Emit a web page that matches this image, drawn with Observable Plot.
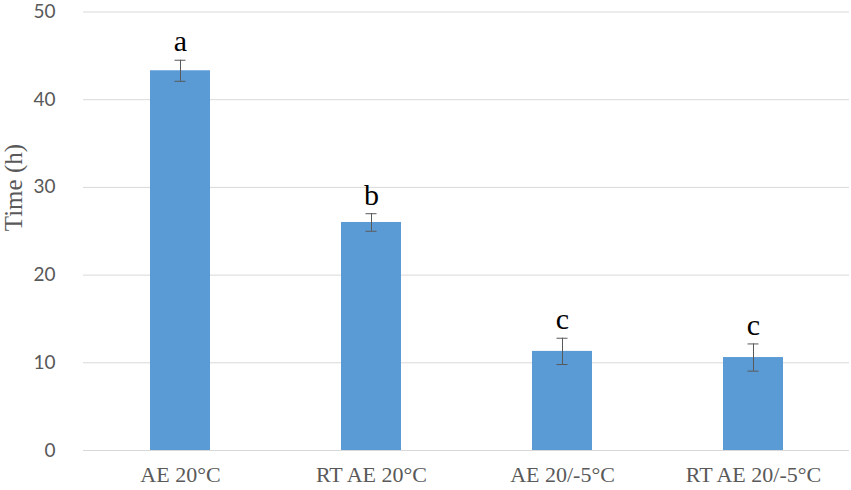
<!DOCTYPE html>
<html><head><meta charset="utf-8">
<script src="https://cdn.jsdelivr.net/npm/d3@7"></script>
<script src="https://cdn.jsdelivr.net/npm/@observablehq/plot@0.6"></script>
<style>body{margin:0;background:#fff}</style>
</head><body><div id="chart"></div>
<script>
const categories = ["AE 20°C", "RT AE 20°C", "AE 20/-5°C", "RT AE 20/-5°C"];
const means = [43.3, 26.0, 11.3, 10.6];
const errors = [1.2, 1.0, 1.5, 1.55];
const letters = ["a", "b", "c", "c"];
const yTicks = [0, 10, 20, 30, 40, 50];

const data = categories.map((c, i) => ({cat: c, v: means[i], lo: means[i] - errors[i], hi: means[i] + errors[i], letter: letters[i]}));

const chart = Plot.plot({
  width: 851, height: 490,
  marginLeft: 83, marginRight: 2, marginTop: 11.5, marginBottom: 40,
  x: {domain: categories, paddingInner: 0.687, paddingOuter: 0.3435, label: null},
  y: {domain: [0, 50], label: null},
  style: {background: "#fff"},
  marks: [
    Plot.gridY(yTicks, {stroke: "#d9d9d9", strokeOpacity: 1}),
    Plot.barY(data, {x: "cat", y: "v", fill: "#5b9bd5"}),
    Plot.ruleX(data, {x: "cat", y1: "lo", y2: "hi", stroke: "#595959", strokeWidth: 1}),
    Plot.tickY(data, {x: "cat", y: "lo", stroke: "#595959", insetLeft: 24.5, insetRight: 24.5}),
    Plot.tickY(data, {x: "cat", y: "hi", stroke: "#595959", insetLeft: 24.5, insetRight: 24.5}),
    Plot.text(data, {x: "cat", y: "hi", text: "letter", dy: -9, lineAnchor: "bottom", fontSize: 30, fontFamily: "Liberation Serif", fill: "#000"}),
    Plot.axisY(yTicks, {tickSize: 0, tickPadding: 28, fontSize: 19, fontFamily: "Lato", fill: "#595959", label: null}),
    Plot.axisX({tickSize: 0, tickPadding: 16, fontSize: 22, fontFamily: "Liberation Serif", fill: "#595959", label: null}),
    Plot.text(["Time (h)"], {frameAnchor: "left", dx: -70, rotate: -90, fontSize: 25, fontFamily: "Liberation Serif", fill: "#595959"})
  ]
});
document.getElementById("chart").append(chart);
</script></body></html>
